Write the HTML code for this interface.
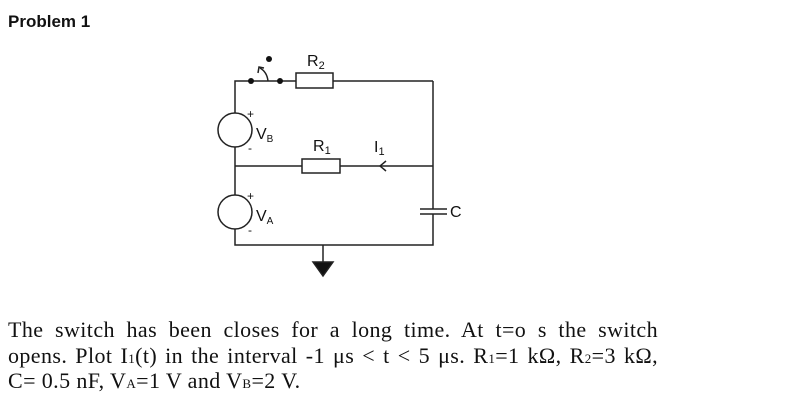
<!DOCTYPE html>
<html><head><meta charset="utf-8"><style>
body{margin:0;width:800px;height:408px;background:#fff;position:relative;overflow:hidden}
.t{position:absolute;font-family:"Liberation Sans",sans-serif;font-weight:bold;font-size:17px;left:8px;top:12px;color:#111}
.p{position:absolute;left:8px;width:650px;font-family:"Liberation Serif",serif;font-size:22px;letter-spacing:0.4px;color:#111;text-align:justify;text-align-last:justify;white-space:nowrap;line-height:24px}
</style></head><body>
<div class="t">Problem 1</div>
<svg width="800" height="408" style="position:absolute;left:0;top:0" font-family="Liberation Sans,sans-serif" fill="none" stroke="#222" stroke-width="1.5">
<polyline points="251,81 235,81 235,245 433,245 433,214"/>
<line x1="251" y1="81" x2="296" y2="81"/>
<line x1="333" y1="81" x2="433" y2="81"/>
<line x1="433" y1="81" x2="433" y2="209"/>
<line x1="235" y1="166" x2="302" y2="166"/>
<line x1="340" y1="166" x2="433" y2="166"/>
<rect x="296" y="73" width="37" height="15" fill="#fff"/>
<rect x="302" y="159" width="38" height="14" fill="#fff"/>
<circle cx="235" cy="130" r="17" fill="#fff"/>
<circle cx="235" cy="212" r="17" fill="#fff"/>
<path d="M268 81 Q267 72 260 68"/>
<path d="M258 73 L259 67 L264 68"/>
<line x1="420" y1="209" x2="447" y2="209"/>
<line x1="420" y1="214" x2="447" y2="214"/>
<line x1="323" y1="245" x2="323" y2="262"/>
<polygon points="313,262 333,262 323,276" fill="#111"/>
<path d="M386 161 L380 166 L386 171"/>
<g fill="#111" stroke="none">
<circle cx="251" cy="81" r="3"/><circle cx="280" cy="81" r="3"/><circle cx="269" cy="59" r="3"/>
<text x="307" y="66" font-size="16">R<tspan font-size="11" dy="3">2</tspan></text>
<text x="313" y="151" font-size="16">R<tspan font-size="11" dy="3">1</tspan></text>
<text x="374" y="152" font-size="16">I<tspan font-size="11" dy="3">1</tspan></text>
<text x="256" y="139" font-size="16">V<tspan font-size="10" dy="3">B</tspan></text>
<text x="256" y="221" font-size="16">V<tspan font-size="10" dy="3">A</tspan></text>
<text x="450" y="217" font-size="16">C</text>
<text x="247" y="118" font-size="12">+</text>
<text x="248" y="152" font-size="12">-</text>
<text x="247" y="200" font-size="12">+</text>
<text x="248" y="234" font-size="12">-</text>
</g>
</svg>
<div class="p" style="top:318px">The switch has been closes for a long time. At t=o s the switch</div>
<div class="p" style="top:344px">opens. Plot I<span style="font-size:13px">1</span>(t) in the interval -1 μs &lt; t &lt; 5 μs. R<span style="font-size:13px">1</span>=1 kΩ, R<span style="font-size:13px">2</span>=3 kΩ,</div>
<div class="p" style="top:369px;text-align-last:left;width:auto">C= 0.5 nF, V<span style="font-size:13px">A</span>=1 V and V<span style="font-size:13px">B</span>=2 V.</div>
</body></html>
